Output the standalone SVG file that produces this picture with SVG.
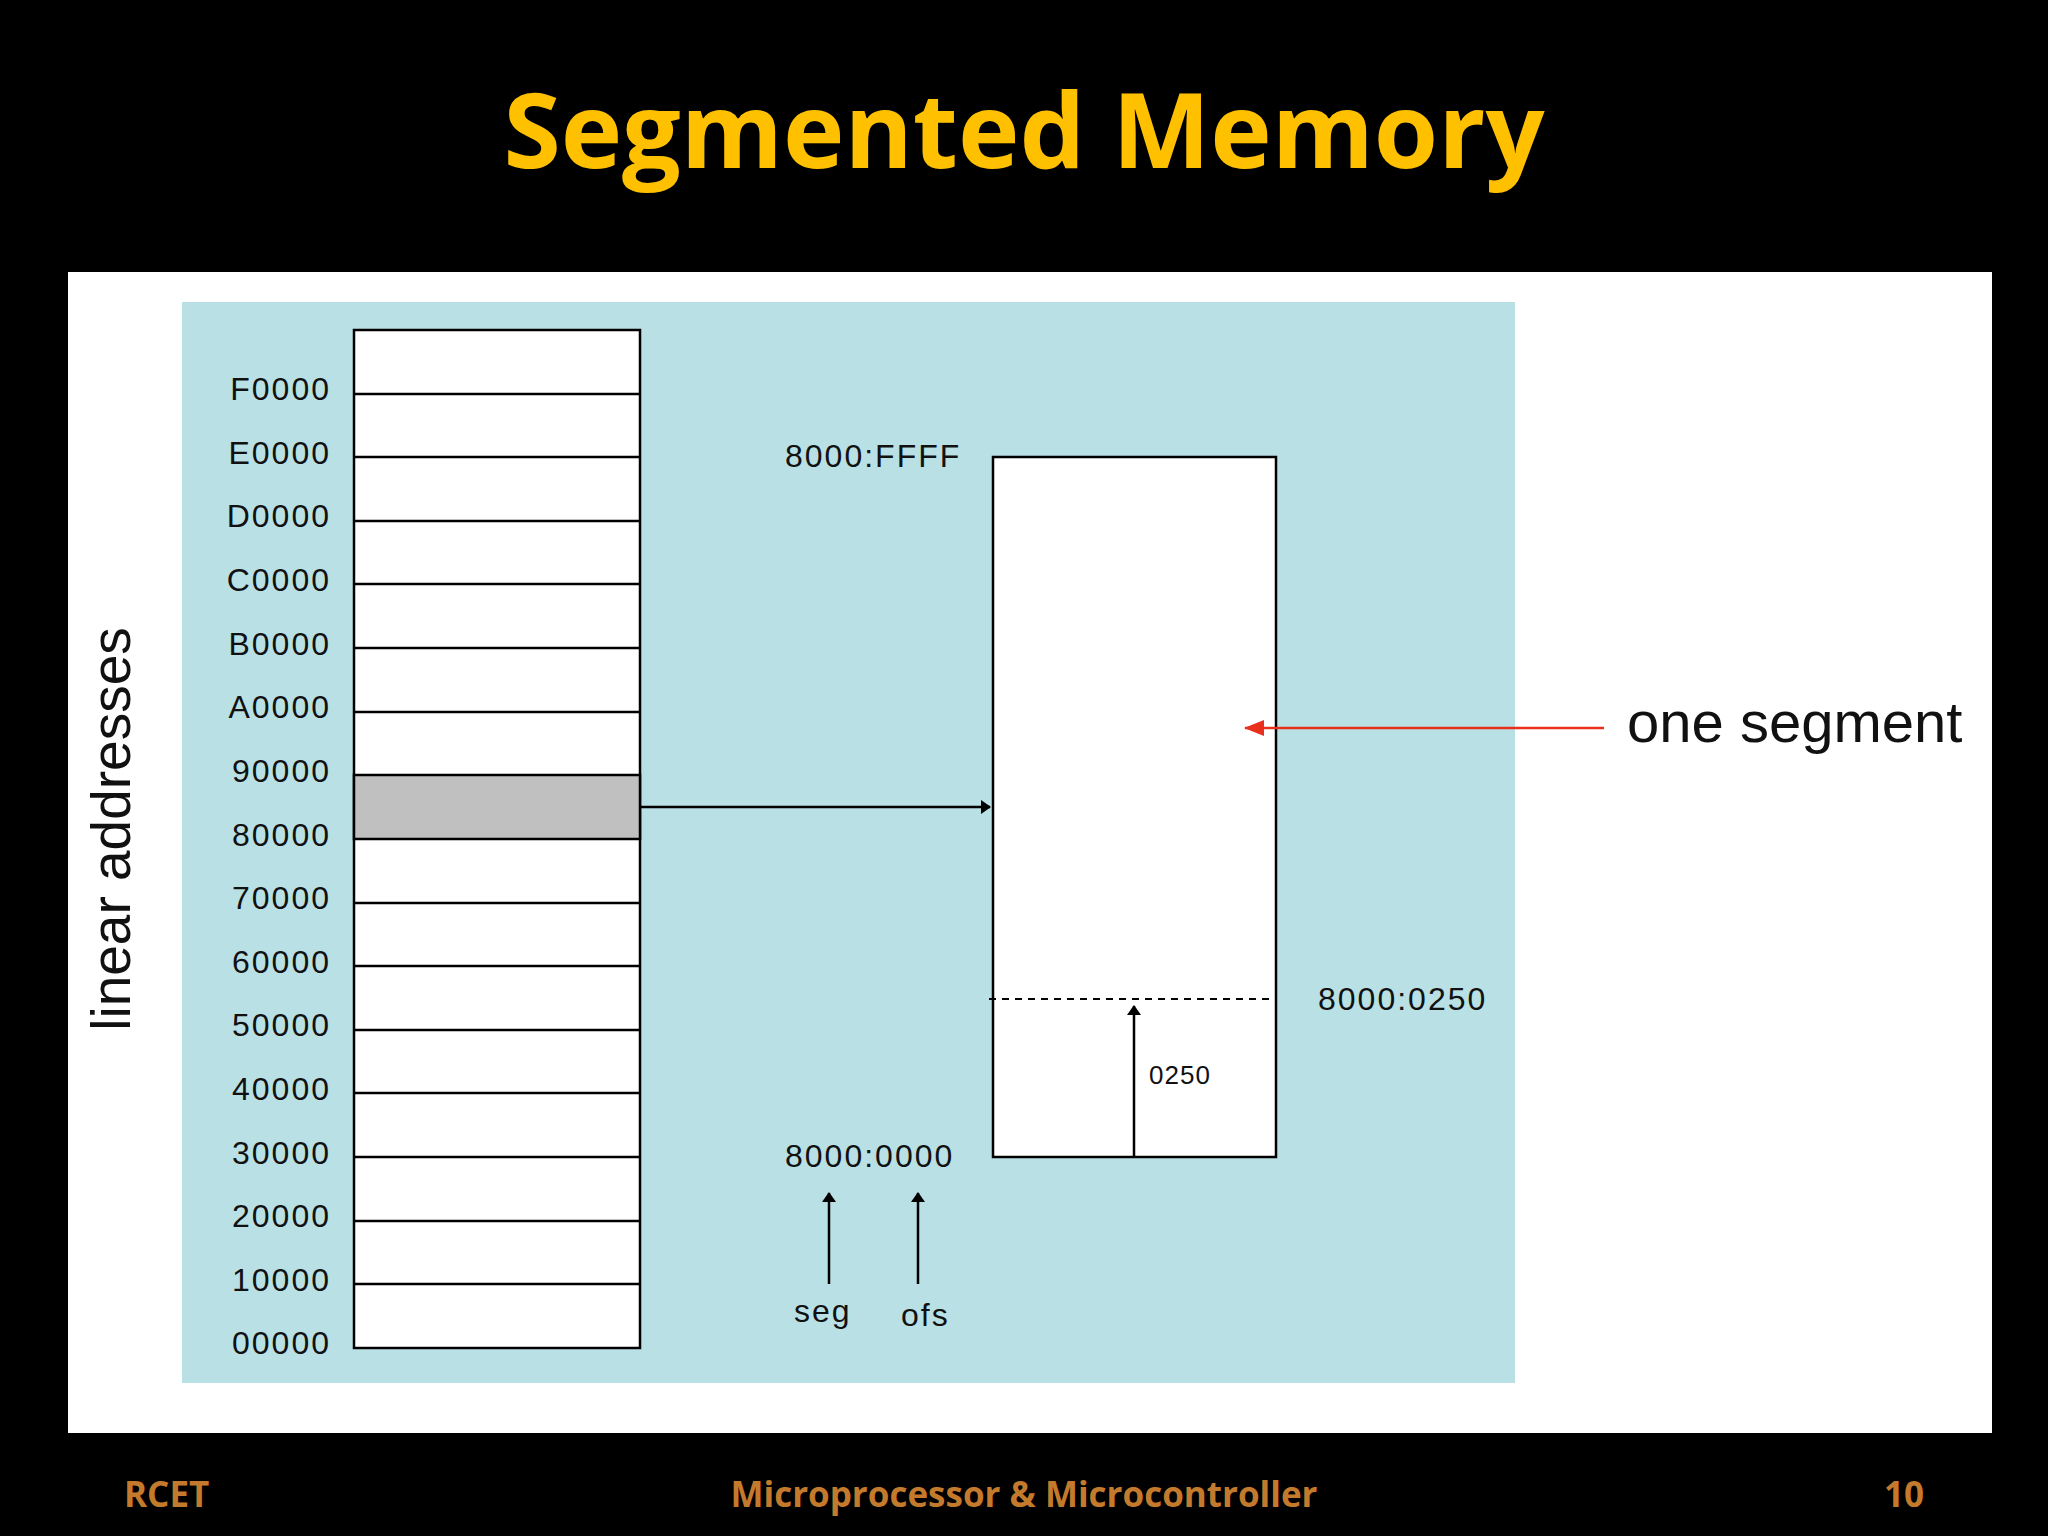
<svg xmlns="http://www.w3.org/2000/svg" width="2048" height="1536" viewBox="0 0 2048 1536">
<style>
.lbl{font-family:"Liberation Sans",Arial,sans-serif;font-size:32px;letter-spacing:2px;fill:#111}
.ln{stroke:#000;stroke-width:2.5}
.ft{font-family:"Open Sans","Liberation Sans",sans-serif;font-weight:bold;font-size:35px;fill:#C47A2C}
</style>
<defs>
<marker id="ah" markerWidth="10" markerHeight="14" refX="9" refY="7" orient="auto" markerUnits="userSpaceOnUse"><path d="M0,0 L10,7 L0,14 z" fill="#000"/></marker>
<marker id="ahr" markerWidth="20" markerHeight="16" refX="19" refY="8" orient="auto" markerUnits="userSpaceOnUse"><path d="M0,0 L20,8 L0,16 z" fill="#E8301C"/></marker>
</defs>
<rect width="2048" height="1536" fill="#000"/>
<text x="1024" y="168" text-anchor="middle" font-family="'Open Sans','Liberation Sans',sans-serif" font-weight="bold" font-size="104" fill="#FFC000">Segmented Memory</text>
<rect x="68" y="272" width="1924" height="1161" fill="#fff"/>
<rect x="182" y="302" width="1333" height="1081" fill="#B9E1E5"/>
<g id="memory">
<rect x="354" y="330" width="286" height="1018" class="ln" style="fill:#fff"/>
<rect x="354" y="775" width="286" height="64" class="ln" style="fill:#C0C0C0"/>
<g class="ln">
<line x1="354" y1="394" x2="640" y2="394"/><line x1="354" y1="457" x2="640" y2="457"/>
<line x1="354" y1="521" x2="640" y2="521"/><line x1="354" y1="584" x2="640" y2="584"/>
<line x1="354" y1="648" x2="640" y2="648"/><line x1="354" y1="712" x2="640" y2="712"/>
<line x1="354" y1="903" x2="640" y2="903"/><line x1="354" y1="966" x2="640" y2="966"/>
<line x1="354" y1="1030" x2="640" y2="1030"/><line x1="354" y1="1093" x2="640" y2="1093"/>
<line x1="354" y1="1157" x2="640" y2="1157"/><line x1="354" y1="1221" x2="640" y2="1221"/>
<line x1="354" y1="1284" x2="640" y2="1284"/>
</g>
<g class="lbl" text-anchor="end">
<text x="331" y="400">F0000</text><text x="331" y="464">E0000</text><text x="331" y="527">D0000</text>
<text x="331" y="591">C0000</text><text x="331" y="655">B0000</text><text x="331" y="718">A0000</text>
<text x="331" y="782">90000</text><text x="331" y="846">80000</text><text x="331" y="909">70000</text>
<text x="331" y="973">60000</text><text x="331" y="1036">50000</text><text x="331" y="1100">40000</text>
<text x="331" y="1164">30000</text><text x="331" y="1227">20000</text><text x="331" y="1291">10000</text>
<text x="331" y="1354">00000</text>
</g>
<text transform="translate(130,829) rotate(-90)" text-anchor="middle" font-family="'Liberation Sans',Arial,sans-serif" font-size="55" fill="#111">linear addresses</text>
</g>
<g id="segment">
<rect x="993" y="457" width="283" height="700" class="ln" style="fill:#fff"/>
<line x1="989" y1="999" x2="1276" y2="999" stroke="#000" stroke-width="2" stroke-dasharray="7,6"/>
<text class="lbl" x="785" y="467">8000:FFFF</text>
<text class="lbl" x="1318" y="1010">8000:0250</text>
<text class="lbl" x="785" y="1167">8000:0000</text>
<text x="1149" y="1084" font-family="'Liberation Sans',Arial,sans-serif" font-size="26" letter-spacing="1" fill="#111">0250</text>
<text class="lbl" x="794" y="1322">seg</text>
<text class="lbl" x="901" y="1326">ofs</text>
<text x="1627" y="742" font-family="'Liberation Sans',Arial,sans-serif" font-size="58" fill="#111">one segment</text>
</g>
<g id="connectors">
<line x1="640" y1="807" x2="990" y2="807" class="ln" marker-end="url(#ah)"/>
<line x1="1134" y1="1157" x2="1134" y2="1006" class="ln" marker-end="url(#ah)"/>
<line x1="829" y1="1284" x2="829" y2="1193" class="ln" marker-end="url(#ah)"/>
<line x1="918" y1="1284" x2="918" y2="1193" class="ln" marker-end="url(#ah)"/>
<line x1="1604" y1="728" x2="1245" y2="728" stroke="#E8301C" stroke-width="2.5" marker-end="url(#ahr)"/>
</g>
<text class="ft" x="124" y="1507">RCET</text>
<text class="ft" x="1024" y="1507" text-anchor="middle">Microprocessor &amp; Microcontroller</text>
<text class="ft" x="1924" y="1507" text-anchor="end">10</text>
</svg>
